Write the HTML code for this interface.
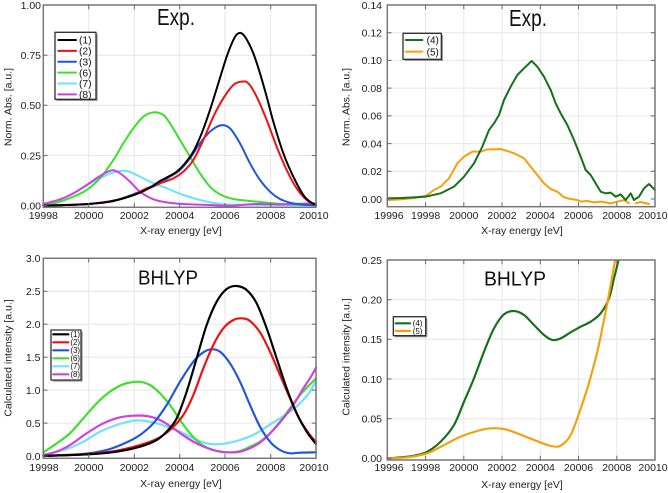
<!DOCTYPE html>
<html><head><meta charset="utf-8"><style>
html,body{margin:0;padding:0;background:#fff;}
svg{display:block;font-family:"Liberation Sans",Arial,sans-serif;}
</style></head><body>
<svg id="fig" width="668" height="493" viewBox="0 0 668 493" xmlns="http://www.w3.org/2000/svg">
<rect width="668" height="493" fill="#fff"/>

<!-- ============ PANEL A (top-left) ============ -->
<g stroke="#e6e6e6" stroke-width="1">
<line x1="43.3" y1="155.5" x2="316" y2="155.5"/><line x1="43.3" y1="105.3" x2="316" y2="105.3"/><line x1="43.3" y1="55.2" x2="316" y2="55.2"/>
<line x1="88.7" y1="5" x2="88.7" y2="207.3"/><line x1="134.3" y1="5" x2="134.3" y2="207.3"/><line x1="179.7" y1="5" x2="179.7" y2="207.3"/><line x1="225" y1="5" x2="225" y2="207.3"/><line x1="270.7" y1="5" x2="270.7" y2="207.3"/>
</g>
<g transform="scale(0.333333)" fill="none" stroke-width="6" stroke-linejoin="round" stroke-linecap="round">
<polyline class="sm" stroke="#6fe0ff" points="130,615 180,600 230,575 280,545 320,525 350,515 380,513 410,525 450,545 500,565 550,585 600,600 650,610 700,614 948,616"/>
<polyline class="sm" stroke="#3ce02a" points="130,615 170,608 220,590 260,570 300,535 340,480 370,430 400,385 430,350 460,337 490,345 510,370 540,420 570,470 600,520 630,560 660,583 700,597 750,603 800,608 850,612 948,615"/>
<polyline class="sm" stroke="#d040e0" points="130,612 180,598 220,580 260,555 300,528 335,511 360,520 390,545 420,575 460,598 500,607 550,612 600,614 650,616 700,617 770,612 850,613 948,610"/>
<polyline class="sm" stroke="#2255dd" points="130,617 266,612 350,600 420,575 470,555 510,530 540,510 570,475 600,430 630,395 662,376 690,385 720,430 750,490 780,540 810,575 840,597 870,608 900,613 948,616"/>
<polyline class="sm" stroke="#ee1111" points="130,617 266,612 350,600 400,585 440,565 480,550 520,535 550,515 580,480 610,420 640,350 670,295 700,255 725,245 745,250 770,290 800,360 830,440 860,510 890,565 920,600 948,615"/>
<polyline class="sm" stroke="#000" points="130,617 200,615 266,612 330,605 380,592 420,578 450,563 480,543 505,530 530,515 555,490 580,455 605,400 630,330 655,250 680,170 700,120 712,102 725,100 740,118 760,160 780,220 800,290 820,365 850,460 880,530 910,585 930,605 948,615"/>
<!-- legend -->
<rect x="170" y="102" width="123" height="201" fill="#999" stroke="none"/>
<rect x="165" y="97" width="123" height="201" fill="#fff" stroke="#333" stroke-width="4"/>
<line x1="175" y1="120" x2="228" y2="120" stroke="#000"/>
<line x1="175" y1="152.6" x2="228" y2="152.6" stroke="#ee1111"/>
<line x1="175" y1="185.2" x2="228" y2="185.2" stroke="#2255dd"/>
<line x1="175" y1="217.8" x2="228" y2="217.8" stroke="#3ce02a"/>
<line x1="175" y1="250.4" x2="228" y2="250.4" stroke="#6fe0ff"/>
<line x1="175" y1="283" x2="228" y2="283" stroke="#d040e0"/>
<g fill="#111" stroke="none" font-size="31">
<text x="237" y="131">(1)</text><text x="237" y="163.6">(2)</text><text x="237" y="196.2">(3)</text><text x="237" y="228.8">(6)</text><text x="237" y="261.4">(7)</text><text x="237" y="294">(8)</text>
</g>
</g>
<rect x="43.3" y="5" width="272.7" height="202.3" fill="none" stroke="#777" stroke-width="1.5"/>
<g stroke="#666" stroke-width="1">
<line x1="43.3" y1="155.5" x2="47.5" y2="155.5"/><line x1="43.3" y1="105.3" x2="47.5" y2="105.3"/><line x1="43.3" y1="55.2" x2="47.5" y2="55.2"/><line x1="43.3" y1="205.7" x2="47.5" y2="205.7"/>
<line x1="316" y1="155.5" x2="311.8" y2="155.5"/><line x1="316" y1="105.3" x2="311.8" y2="105.3"/><line x1="316" y1="55.2" x2="311.8" y2="55.2"/>
<line x1="88.7" y1="207.3" x2="88.7" y2="203"/><line x1="134.3" y1="207.3" x2="134.3" y2="203"/><line x1="179.7" y1="207.3" x2="179.7" y2="203"/><line x1="225" y1="207.3" x2="225" y2="203"/><line x1="270.7" y1="207.3" x2="270.7" y2="203"/>
<line x1="88.7" y1="5" x2="88.7" y2="9.3"/><line x1="134.3" y1="5" x2="134.3" y2="9.3"/><line x1="179.7" y1="5" x2="179.7" y2="9.3"/><line x1="225" y1="5" x2="225" y2="9.3"/><line x1="270.7" y1="5" x2="270.7" y2="9.3"/>
</g>
<g font-size="10.5" fill="#222" text-anchor="end">
<text x="41" y="209.5">0.00</text><text x="41" y="159.3">0.25</text><text x="41" y="109.1">0.50</text><text x="41" y="59">0.75</text><text x="41" y="8.8">1.00</text>
</g>
<g font-size="10.5" fill="#222" text-anchor="middle">
<text x="43.3" y="219">19998</text><text x="88.7" y="219">20000</text><text x="134.3" y="219">20002</text><text x="179.7" y="219">20004</text><text x="225" y="219">20006</text><text x="270.7" y="219">20008</text><text x="314" y="219">20010</text>
<text x="181" y="234">X-ray energy [eV]</text>
</g>
<text transform="translate(11.5,107) rotate(-90)" font-size="10.5" fill="#222" text-anchor="middle">Norm. Abs. [a.u.]</text>
<text x="157" y="25" font-size="23" fill="#111" textLength="38" lengthAdjust="spacingAndGlyphs">Exp.</text>

<!-- ============ PANEL B (top-right) ============ -->
<g stroke="#e6e6e6" stroke-width="1">
<line x1="387.3" y1="171.3" x2="655" y2="171.3"/><line x1="387.3" y1="143.6" x2="655" y2="143.6"/><line x1="387.3" y1="115.9" x2="655" y2="115.9"/><line x1="387.3" y1="88.1" x2="655" y2="88.1"/><line x1="387.3" y1="60.4" x2="655" y2="60.4"/><line x1="387.3" y1="32.7" x2="655" y2="32.7"/>
<line x1="425.6" y1="5" x2="425.6" y2="206.7"/><line x1="463.8" y1="5" x2="463.8" y2="206.7"/><line x1="502" y1="5" x2="502" y2="206.7"/><line x1="540.3" y1="5" x2="540.3" y2="206.7"/><line x1="578.5" y1="5" x2="578.5" y2="206.7"/><line x1="616.8" y1="5" x2="616.8" y2="206.7"/>
</g>
<g transform="translate(334,0) scale(0.333333)" fill="none" stroke-width="6" stroke-linejoin="round" stroke-linecap="round">
<polyline stroke="#f5a00a" points="160,600 200,598 240,594 275,588 300,570 320,560 345,535 370,490 390,470 415,455 440,455 460,448 480,448 500,447 520,453 545,462 570,475 590,500 610,525 630,550 650,567 670,575 690,592 710,597 730,600 740,605 760,603 780,607 800,605 830,610 850,605 870,600 885,610"/>
<polyline stroke="#f5a00a" points="905,610 920,606 945,612"/>
<polyline stroke="#16701a" points="160,595 200,594 240,592 275,590 320,580 360,560 390,530 420,490 445,440 465,390 480,370 495,345 510,300 530,260 550,225 570,205 593,183 610,200 630,230 650,270 665,310 680,340 700,375 720,420 740,470 755,510 770,525 785,550 800,575 815,580 830,578 845,590 860,583 875,600 890,580 900,600 915,590 930,565 945,552 963,570"/>
<rect x="212" y="105" width="115" height="78" fill="#999" stroke="none"/>
<rect x="207" y="100" width="115" height="78" fill="#fff" stroke="#333" stroke-width="4"/>
<line x1="215" y1="120" x2="265" y2="120" stroke="#16701a"/>
<line x1="215" y1="155" x2="265" y2="155" stroke="#f5a00a"/>
<g fill="#111" stroke="none" font-size="30">
<text x="278" y="131">(4)</text><text x="278" y="166">(5)</text>
</g>
</g>
<rect x="387.3" y="5" width="267.7" height="201.7" fill="none" stroke="#777" stroke-width="1.5"/>
<g stroke="#666" stroke-width="1">
<line x1="387.3" y1="199" x2="391.5" y2="199"/><line x1="387.3" y1="171.3" x2="391.5" y2="171.3"/><line x1="387.3" y1="143.6" x2="391.5" y2="143.6"/><line x1="387.3" y1="115.9" x2="391.5" y2="115.9"/><line x1="387.3" y1="88.1" x2="391.5" y2="88.1"/><line x1="387.3" y1="60.4" x2="391.5" y2="60.4"/><line x1="387.3" y1="32.7" x2="391.5" y2="32.7"/>
<line x1="655" y1="199" x2="650.8" y2="199"/><line x1="655" y1="171.3" x2="650.8" y2="171.3"/><line x1="655" y1="143.6" x2="650.8" y2="143.6"/><line x1="655" y1="115.9" x2="650.8" y2="115.9"/><line x1="655" y1="88.1" x2="650.8" y2="88.1"/><line x1="655" y1="60.4" x2="650.8" y2="60.4"/><line x1="655" y1="32.7" x2="650.8" y2="32.7"/>
<line x1="425.6" y1="206.7" x2="425.6" y2="202.4"/><line x1="463.8" y1="206.7" x2="463.8" y2="202.4"/><line x1="502" y1="206.7" x2="502" y2="202.4"/><line x1="540.3" y1="206.7" x2="540.3" y2="202.4"/><line x1="578.5" y1="206.7" x2="578.5" y2="202.4"/><line x1="616.8" y1="206.7" x2="616.8" y2="202.4"/>
<line x1="425.6" y1="5" x2="425.6" y2="9.3"/><line x1="463.8" y1="5" x2="463.8" y2="9.3"/><line x1="502" y1="5" x2="502" y2="9.3"/><line x1="540.3" y1="5" x2="540.3" y2="9.3"/><line x1="578.5" y1="5" x2="578.5" y2="9.3"/><line x1="616.8" y1="5" x2="616.8" y2="9.3"/>
</g>
<g font-size="10.5" fill="#222" text-anchor="end">
<text x="382" y="202.8">0.00</text><text x="382" y="175.1">0.02</text><text x="382" y="147.4">0.04</text><text x="382" y="119.7">0.06</text><text x="382" y="91.9">0.08</text><text x="382" y="64.2">0.10</text><text x="382" y="36.5">0.12</text><text x="382" y="8.8">0.14</text>
</g>
<g font-size="10.5" fill="#222" text-anchor="middle">
<text x="389" y="219">19996</text><text x="425.6" y="219">19998</text><text x="463.8" y="219">20000</text><text x="502" y="219">20002</text><text x="540.3" y="219">20004</text><text x="578.5" y="219">20006</text><text x="616.8" y="219">20008</text><text x="653" y="219">20010</text>
<text x="522" y="234">X-ray energy [eV]</text>
</g>
<text transform="translate(349.5,107) rotate(-90)" font-size="10.5" fill="#222" text-anchor="middle">Norm. Abs. [a.u.]</text>
<text x="509" y="26" font-size="23" fill="#111" textLength="38" lengthAdjust="spacingAndGlyphs">Exp.</text>

<!-- ============ PANEL C (bottom-left) ============ -->
<g stroke="#e6e6e6" stroke-width="1">
<line x1="43.3" y1="423.1" x2="316" y2="423.1"/><line x1="43.3" y1="390.1" x2="316" y2="390.1"/><line x1="43.3" y1="357.2" x2="316" y2="357.2"/><line x1="43.3" y1="324.2" x2="316" y2="324.2"/><line x1="43.3" y1="291.3" x2="316" y2="291.3"/>
<line x1="88.7" y1="258.3" x2="88.7" y2="458.3"/><line x1="134.3" y1="258.3" x2="134.3" y2="458.3"/><line x1="179.7" y1="258.3" x2="179.7" y2="458.3"/><line x1="225" y1="258.3" x2="225" y2="458.3"/><line x1="270.7" y1="258.3" x2="270.7" y2="458.3"/>
</g>
<g transform="translate(0,245) scale(0.333333)" fill="none" stroke-width="6.5" stroke-linejoin="round" stroke-linecap="round">
<polyline class="sm" stroke="#6fe0ff" points="130,630 200,612 250,590 300,560 350,540 400,527 430,527 470,535 500,545 540,560 580,580 620,595 650,598 680,595 720,585 760,570 800,545 840,520 870,500 900,475 930,440 948,405"/>
<polyline class="sm" stroke="#3ce02a" points="130,622 170,595 210,565 250,520 290,475 330,440 370,418 415,410 450,420 480,445 510,480 540,525 570,565 600,595 630,612 660,620 690,622 720,618 750,605 780,590 810,565 840,530 870,490 900,450 930,418 948,400"/>
<polyline class="sm" stroke="#d040e0" points="130,630 170,620 210,600 260,565 310,535 360,517 400,512 440,513 480,525 520,550 560,578 600,600 640,615 680,622 720,620 760,605 790,585 820,555 850,520 880,480 910,430 930,400 948,368"/>
<polyline class="sm" stroke="#2255dd" points="130,632 200,630 266,625 330,612 380,592 420,570 460,535 500,480 540,410 580,350 610,322 635,313 660,320 690,355 720,410 750,480 780,545 810,590 840,615 870,625 900,623 948,622"/>
<polyline class="sm" stroke="#ee1111" points="130,633 266,627 350,617 420,600 470,582 510,555 550,510 580,450 610,370 640,300 670,250 700,225 725,220 750,228 780,262 810,320 840,390 870,460 900,525 930,570 948,590"/>
<polyline class="sm" stroke="#000" points="130,633 266,628 350,620 420,605 470,585 500,560 530,520 560,440 590,340 620,240 650,170 680,132 710,123 740,135 770,175 800,250 830,340 860,430 890,505 920,560 948,597"/>
<rect x="158" y="260" width="90" height="150" fill="#999" stroke="none"/>
<rect x="153" y="255" width="90" height="150" fill="#fff" stroke="#333" stroke-width="4"/>
<line x1="160" y1="268" x2="205" y2="268" stroke="#000"/>
<line x1="160" y1="292" x2="205" y2="292" stroke="#ee1111"/>
<line x1="160" y1="316" x2="205" y2="316" stroke="#2255dd"/>
<line x1="160" y1="340" x2="205" y2="340" stroke="#3ce02a"/>
<line x1="160" y1="364" x2="205" y2="364" stroke="#6fe0ff"/>
<line x1="160" y1="388" x2="205" y2="388" stroke="#d040e0"/>
<g fill="#111" stroke="none" font-size="24">
<text x="211" y="276.5">(1)</text><text x="211" y="300.5">(2)</text><text x="211" y="324.5">(3)</text><text x="211" y="348.5">(6)</text><text x="211" y="372.5">(7)</text><text x="211" y="396.5">(8)</text>
</g>
</g>
<rect x="43.3" y="258.3" width="272.7" height="200" fill="none" stroke="#777" stroke-width="1.5"/>
<g stroke="#666" stroke-width="1">
<line x1="43.3" y1="423.1" x2="47.5" y2="423.1"/><line x1="43.3" y1="390.1" x2="47.5" y2="390.1"/><line x1="43.3" y1="357.2" x2="47.5" y2="357.2"/><line x1="43.3" y1="324.2" x2="47.5" y2="324.2"/><line x1="43.3" y1="291.3" x2="47.5" y2="291.3"/><line x1="43.3" y1="456" x2="47.5" y2="456"/>
<line x1="316" y1="423.1" x2="311.8" y2="423.1"/><line x1="316" y1="390.1" x2="311.8" y2="390.1"/><line x1="316" y1="357.2" x2="311.8" y2="357.2"/><line x1="316" y1="324.2" x2="311.8" y2="324.2"/><line x1="316" y1="291.3" x2="311.8" y2="291.3"/>
<line x1="88.7" y1="458.3" x2="88.7" y2="454"/><line x1="134.3" y1="458.3" x2="134.3" y2="454"/><line x1="179.7" y1="458.3" x2="179.7" y2="454"/><line x1="225" y1="458.3" x2="225" y2="454"/><line x1="270.7" y1="458.3" x2="270.7" y2="454"/>
<line x1="88.7" y1="258.3" x2="88.7" y2="262.6"/><line x1="134.3" y1="258.3" x2="134.3" y2="262.6"/><line x1="179.7" y1="258.3" x2="179.7" y2="262.6"/><line x1="225" y1="258.3" x2="225" y2="262.6"/><line x1="270.7" y1="258.3" x2="270.7" y2="262.6"/>
</g>
<g font-size="10.5" fill="#222" text-anchor="end">
<text x="40.5" y="459.8">0.0</text><text x="40.5" y="426.9">0.5</text><text x="40.5" y="393.9">1.0</text><text x="40.5" y="361">1.5</text><text x="40.5" y="328">2.0</text><text x="40.5" y="295.1">2.5</text><text x="40.5" y="262.1">3.0</text>
</g>
<g font-size="10.5" fill="#222" text-anchor="middle">
<text x="44" y="471">19998</text><text x="88.7" y="471">20000</text><text x="134.3" y="471">20002</text><text x="179.7" y="471">20004</text><text x="225" y="471">20006</text><text x="270.7" y="471">20008</text><text x="314" y="471">20010</text>
<text x="181" y="487">X-ray energy [eV]</text>
</g>
<text transform="translate(11.5,358) rotate(-90)" font-size="10.5" fill="#222" text-anchor="middle">Calculated intensity [a.u.]</text>
<text x="138" y="284.3" font-size="20" fill="#111" textLength="60" lengthAdjust="spacingAndGlyphs">BHLYP</text>

<!-- ============ PANEL D (bottom-right) ============ -->
<g stroke="#e6e6e6" stroke-width="1">
<line x1="387.3" y1="418.7" x2="655" y2="418.7"/><line x1="387.3" y1="379" x2="655" y2="379"/><line x1="387.3" y1="339.3" x2="655" y2="339.3"/><line x1="387.3" y1="299.7" x2="655" y2="299.7"/>
<line x1="425.6" y1="260" x2="425.6" y2="460"/><line x1="463.8" y1="260" x2="463.8" y2="460"/><line x1="502" y1="260" x2="502" y2="460"/><line x1="540.3" y1="260" x2="540.3" y2="460"/><line x1="578.5" y1="260" x2="578.5" y2="460"/><line x1="616.8" y1="260" x2="616.8" y2="460"/>
</g>
<g transform="translate(334,245) scale(0.333333)" fill="none" stroke-width="6.5" stroke-linejoin="round" stroke-linecap="round">
<polyline class="sm" stroke="#16701a" points="160,640 200,637 240,632 280,620 320,590 360,540 390,470 420,400 450,320 480,250 510,208 540,198 570,210 600,240 630,270 655,285 680,280 710,262 740,245 770,230 800,205 825,160 840,100 853,48"/>
<polyline class="sm" stroke="#f5a00a" points="160,640 220,637 280,625 330,600 380,575 430,558 470,550 510,552 550,565 600,585 640,600 670,605 690,595 710,570 730,520 760,430 790,320 815,200 830,120 843,48"/>
<rect x="183" y="220" width="97" height="57" fill="#999" stroke="none"/>
<rect x="178" y="215" width="97" height="57" fill="#fff" stroke="#333" stroke-width="4"/>
<line x1="185" y1="235" x2="228" y2="235" stroke="#16701a"/>
<line x1="185" y1="258" x2="228" y2="258" stroke="#f5a00a"/>
<g fill="#111" stroke="none" font-size="24">
<text x="236" y="243.5">(4)</text><text x="236" y="266.5">(5)</text>
</g>
</g>
<rect x="387.3" y="260" width="267.7" height="200" fill="none" stroke="#777" stroke-width="1.5"/>
<g stroke="#666" stroke-width="1">
<line x1="387.3" y1="458.3" x2="391.5" y2="458.3"/><line x1="387.3" y1="418.7" x2="391.5" y2="418.7"/><line x1="387.3" y1="379" x2="391.5" y2="379"/><line x1="387.3" y1="339.3" x2="391.5" y2="339.3"/><line x1="387.3" y1="299.7" x2="391.5" y2="299.7"/>
<line x1="655" y1="418.7" x2="650.8" y2="418.7"/><line x1="655" y1="379" x2="650.8" y2="379"/><line x1="655" y1="339.3" x2="650.8" y2="339.3"/><line x1="655" y1="299.7" x2="650.8" y2="299.7"/>
<line x1="425.6" y1="460" x2="425.6" y2="455.7"/><line x1="463.8" y1="460" x2="463.8" y2="455.7"/><line x1="502" y1="460" x2="502" y2="455.7"/><line x1="540.3" y1="460" x2="540.3" y2="455.7"/><line x1="578.5" y1="460" x2="578.5" y2="455.7"/><line x1="616.8" y1="460" x2="616.8" y2="455.7"/>
<line x1="425.6" y1="260" x2="425.6" y2="264.3"/><line x1="463.8" y1="260" x2="463.8" y2="264.3"/><line x1="502" y1="260" x2="502" y2="264.3"/><line x1="540.3" y1="260" x2="540.3" y2="264.3"/><line x1="578.5" y1="260" x2="578.5" y2="264.3"/><line x1="616.8" y1="260" x2="616.8" y2="264.3"/>
</g>
<g font-size="10.5" fill="#222" text-anchor="end">
<text x="382" y="462.1">0.00</text><text x="382" y="422.5">0.05</text><text x="382" y="382.8">0.10</text><text x="382" y="343.1">0.15</text><text x="382" y="303.5">0.20</text><text x="382" y="263.8">0.25</text>
</g>
<g font-size="10.5" fill="#222" text-anchor="middle">
<text x="389" y="471">19996</text><text x="425.6" y="471">19998</text><text x="463.8" y="471">20000</text><text x="502" y="471">20002</text><text x="540.3" y="471">20004</text><text x="578.5" y="471">20006</text><text x="616.8" y="471">20008</text><text x="653" y="471">20010</text>
<text x="522" y="488">X-ray energy [eV]</text>
</g>
<text transform="translate(349.5,357) rotate(-90)" font-size="10.5" fill="#222" text-anchor="middle">Calculated intensity [a.u.]</text>
<text x="484" y="285.7" font-size="20" fill="#111" textLength="62" lengthAdjust="spacingAndGlyphs">BHLYP</text>
</svg>
<script>
(function(){
  try{
    var NS="http://www.w3.org/2000/svg";
    var pls=document.querySelectorAll("polyline.sm");
    for(var k=0;k<pls.length;k++){
      var pl=pls[k];
      var raw=pl.getAttribute("points").trim().split(/\s+/);
      var p=raw.map(function(s){var a=s.split(",");return [parseFloat(a[0]),parseFloat(a[1])];});
      if(p.length<3) continue;
      var d="M"+p[0][0]+","+p[0][1];
      for(var i=0;i<p.length-1;i++){
        var p0=p[i>0?i-1:0],p1=p[i],p2=p[i+1],p3=p[i+2<p.length?i+2:p.length-1];
        var c1x=p1[0]+(p2[0]-p0[0])/6,c1y=p1[1]+(p2[1]-p0[1])/6;
        var c2x=p2[0]-(p3[0]-p1[0])/6,c2y=p2[1]-(p3[1]-p1[1])/6;
        d+=" C"+c1x.toFixed(2)+","+c1y.toFixed(2)+" "+c2x.toFixed(2)+","+c2y.toFixed(2)+" "+p2[0]+","+p2[1];
      }
      var path=document.createElementNS(NS,"path");
      path.setAttribute("d",d);
      path.setAttribute("stroke",pl.getAttribute("stroke"));
      path.setAttribute("fill","none");
      pl.parentNode.replaceChild(path,pl);
    }
  }catch(e){}
})();
</script>
</body></html>
